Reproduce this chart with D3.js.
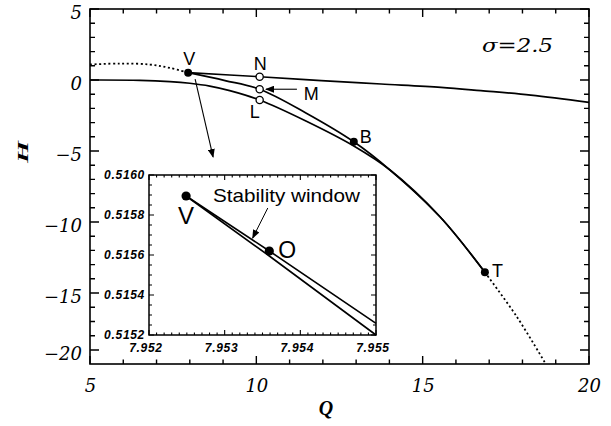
<!DOCTYPE html>
<html>
<head>
<meta charset="utf-8">
<script src="https://cdn.jsdelivr.net/npm/d3@7"></script>
<style>
  body { margin: 0; background: #fff; }
  svg { display: block; }
</style>
</head>
<body>
<svg id="chart"></svg>
<script>
// data
const dottedLeftQ = [5, 5.9, 6.8, 7.4, 7.95];
const dottedLeftH = [1.09, 1.16, 1.09, 0.85, 0.516];

const upperQ = [7.95, 10.1, 11.95, 13.75, 15.55, 16.75, 18.25, 20];
const upperH = [0.516, 0.23, -0.04, -0.28, -0.52, -0.75, -1.06, -1.57];

const mBranchQ = [7.95, 9.06, 10.1, 11.49, 12.93, 14.02, 15.52, 16.87];
const mBranchH = [0.516, -0.04, -0.65, -2.32, -4.35, -6.34, -9.63, -13.54];

const lBranchQ = [5, 6.5, 7.4, 8, 8.6, 9.2, 10.1, 11.49, 12.93, 14.02, 15.52, 16.87];
const lBranchH = [0, -0.02, -0.11, -0.23, -0.43, -0.75, -1.41, -2.89, -4.65, -6.34, -9.63, -13.54];

const dottedRightQ = [16.87, 17.83, 18.7];
const dottedRightH = [-13.54, -17.08, -21.23];

const filledPts = [{name: "V", q: 7.95, h: 0.516}, {name: "B", q: 12.93, h: -4.35}, {name: "T", q: 16.87, h: -13.54}];
const openPts = [{name: "N", q: 10.1, h: 0.23}, {name: "M", q: 10.1, h: -0.65}, {name: "L", q: 10.1, h: -1.41}];

const xMajor = [5, 10, 15, 20];
const xMinor = [6, 7, 8, 9, 11, 12, 13, 14, 16, 17, 18, 19];
const yMajor = [5, 0, -5, -10, -15, -20];
const yMinor = [4, 3, 2, 1, -1, -2, -3, -4, -6, -7, -8, -9, -11, -12, -13, -14, -16.25, -17.5, -18.75];

// inset
const insetUpperQ = [7.95249, 7.95359, 7.955];
const insetUpperH = [0.515895, 0.51562, 0.515258];
const insetLowerQ = [7.95249, 7.95359, 7.955];
const insetLowerH = [0.515895, 0.515595, 0.5152];
const insetPts = [{name: "V", q: 7.95249, h: 0.515895}, {name: "O", q: 7.95359, h: 0.51562}];
const insetXMajor = [7.952, 7.953, 7.954, 7.955];
const insetXMinor = [7.9521, 7.9522, 7.9523, 7.9524, 7.9525, 7.9526, 7.9527, 7.9528, 7.9529,
    7.9531, 7.9532, 7.9533, 7.9534, 7.9535, 7.9536, 7.9537, 7.9538, 7.9539,
    7.9541, 7.9542, 7.9543, 7.9544, 7.9545, 7.9546, 7.9547, 7.9548, 7.9549];
const insetYMajor = [0.5152, 0.5154, 0.5156, 0.5158, 0.5160];
const insetYMinor = [0.51525, 0.5153, 0.51535, 0.51545, 0.5155, 0.51555,
    0.51565, 0.5157, 0.51575, 0.51585, 0.5159, 0.51595];

const W = 611, H = 426;
const pL = 90, pR = 589, pT = 9, pB = 364;

const svg = d3.select("#chart").attr("width", W).attr("height", H);

svg.append("defs").append("marker")
    .attr("id", "arr")
    .attr("markerUnits", "userSpaceOnUse")
    .attr("markerWidth", 9).attr("markerHeight", 7)
    .attr("refX", 8).attr("refY", 3.5)
    .attr("orient", "auto")
    .append("path").attr("d", "M0,0 L9,3.5 L0,7 Z").attr("fill", "#000");

svg.select("defs").append("clipPath").attr("id", "clip")
    .append("rect").attr("x", pL).attr("y", pT)
    .attr("width", pR - pL).attr("height", pB - pT);

const x = d3.scaleLinear().domain([5, 20]).range([pL, pR]);
// the -15..-20 interval is drawn shorter in the original
const y = d3.scaleLinear().domain([5, -15, -20]).range([pT, 293, 350]);

const serif = "'DejaVu Serif', serif";

// labels come from d3.axis; tick marks are drawn as one path per side
function labelAxis(axisFn, scale, values, fmt, pad) {
    return axisFn(scale).tickValues(values).tickSize(0).tickPadding(pad).tickFormat(fmt);
}

// side: "bottom" | "top" | "left" | "right"; ticks point into the frame
function tickPath(g, scale, values, side, edge, len, width) {
    const d = values.map(v => {
        const p = scale(v);
        if (side === "bottom") return `M${p},${edge}V${edge - len}`;
        if (side === "top") return `M${p},${edge}V${edge + len}`;
        if (side === "left") return `M${edge},${p}H${edge + len}`;
        return `M${edge},${p}H${edge - len}`;
    }).join("");
    g.append("path").attr("d", d).attr("fill", "none")
        .attr("stroke", "#000").attr("stroke-width", width);
}

const main = svg.append("g");
main.append("g").attr("transform", `translate(0,${pB})`)
    .call(labelAxis(d3.axisBottom, x, xMajor, d3.format("d"), 15));
const yLab = main.append("g").attr("transform", `translate(${pL},0)`)
    .call(labelAxis(d3.axisLeft, y, yMajor, d3.format("d"), 8));
main.selectAll(".domain").remove();
main.selectAll(".tick line").remove();
main.selectAll(".tick text")
    .attr("font-family", serif).attr("font-style", "italic")
    .attr("font-size", 18).attr("fill", "#000");
yLab.selectAll(".tick text").attr("dy", "0.52em");

tickPath(main, x, xMajor, "bottom", pB, 8, 1.4);
tickPath(main, x, xMinor, "bottom", pB, 4.5, 1.4);
tickPath(main, x, xMajor, "top", pT, 8, 1.4);
tickPath(main, x, xMinor, "top", pT, 4.5, 1.4);
tickPath(main, y, yMajor, "left", pL, 9, 1.4);
tickPath(main, y, yMinor, "left", pL, 5, 1.4);
tickPath(main, y, yMajor, "right", pR, 9, 1.4);
tickPath(main, y, yMinor, "right", pR, 5, 1.4);

main.append("rect")
    .attr("x", pL).attr("y", pT)
    .attr("width", pR - pL).attr("height", pB - pT)
    .attr("fill", "none").attr("stroke", "#000").attr("stroke-width", 1.6);

// curves
const plot = svg.append("g").attr("clip-path", "url(#clip)");
const line = d3.line().x(d => x(d[0])).y(d => y(d[1])).curve(d3.curveCatmullRom.alpha(0.5));
const zipped = (qs, hs) => qs.map((q, i) => [q, hs[i]]);

plot.append("path").datum(zipped(dottedLeftQ, dottedLeftH)).attr("d", line)
    .attr("fill", "none").attr("stroke", "#000").attr("stroke-width", 1.8)
    .attr("stroke-dasharray", "2,2.6");
plot.append("path").datum(zipped(dottedRightQ, dottedRightH)).attr("d", line)
    .attr("fill", "none").attr("stroke", "#000").attr("stroke-width", 1.8)
    .attr("stroke-dasharray", "2,2.6");

[[upperQ, upperH], [mBranchQ, mBranchH], [lBranchQ, lBranchH]].forEach(c => {
    plot.append("path").datum(zipped(c[0], c[1])).attr("d", line)
        .attr("fill", "none").attr("stroke", "#000").attr("stroke-width", 1.7);
});

svg.selectAll(".filled").data(filledPts).enter().append("circle")
    .attr("cx", d => x(d.q)).attr("cy", d => y(d.h)).attr("r", 4).attr("fill", "#000");
svg.selectAll(".open").data(openPts).enter().append("circle")
    .attr("cx", d => x(d.q)).attr("cy", d => y(d.h)).attr("r", 3.6)
    .attr("fill", "#fff").attr("stroke", "#000").attr("stroke-width", 1.3);

// point labels (offsets in px from the point)
const labelOffsets = {V: [-5, -8], N: [-6, -7], M: [44, 11], L: [-10, 18], B: [6, 1], T: [7, 5]};
svg.selectAll(".lab").data(filledPts.concat(openPts)).enter().append("text")
    .attr("x", d => x(d.q) + labelOffsets[d.name][0])
    .attr("y", d => y(d.h) + labelOffsets[d.name][1])
    .attr("font-family", "'Liberation Sans', Arial, sans-serif").attr("font-size", 18)
    .text(d => d.name);

// arrows
const arrows = [
    {from: [11.22, -0.65], to: [10.29, -0.65]},
    {from: [8.16, 0.07], to: [8.7, -5.42]}
];
svg.selectAll(".arrow").data(arrows).enter().append("line")
    .attr("x1", d => x(d.from[0])).attr("y1", d => y(d.from[1]))
    .attr("x2", d => x(d.to[0])).attr("y2", d => y(d.to[1]))
    .attr("stroke", "#000").attr("stroke-width", 1.1).attr("marker-end", "url(#arr)");

svg.append("text").attr("x", 482).attr("y", 52)
    .attr("font-family", serif).attr("font-style", "italic").attr("font-size", 19)
    .attr("textLength", 71).attr("lengthAdjust", "spacingAndGlyphs")
    .text("σ=2.5");

svg.append("text").attr("x", 326).attr("y", 415).attr("text-anchor", "middle")
    .attr("font-family", "'Liberation Serif', serif").attr("font-style", "italic").attr("font-weight", "bold")
    .attr("font-size", 20).text("Q");

svg.append("text").attr("transform", "translate(28,152) rotate(-90)").attr("text-anchor", "middle")
    .attr("font-family", "'Liberation Serif', serif").attr("font-style", "italic").attr("font-weight", "bold")
    .attr("font-size", 15).attr("textLength", 22).attr("lengthAdjust", "spacingAndGlyphs")
    .text("H");

// inset
const il = 149, ir = 376, it = 175, ib = 335;
const ix = d3.scaleLinear().domain([7.952, 7.955]).range([il, ir]);
const iy = d3.scaleLinear().domain([0.5152, 0.5160]).range([ib, it]);
const inset = svg.append("g");

inset.append("rect").attr("x", il).attr("y", it)
    .attr("width", ir - il).attr("height", ib - it).attr("fill", "#fff");

const ixAxisBottom = inset.append("g").attr("transform", `translate(0,${ib})`)
    .call(labelAxis(d3.axisBottom, ix, insetXMajor, d3.format(".3f"), 8.5));
inset.append("g").attr("transform", `translate(${il},0)`)
    .call(labelAxis(d3.axisLeft, iy, insetYMajor, d3.format(".4f"), 4));
inset.selectAll(".domain").remove();
inset.selectAll(".tick line").remove();
inset.selectAll(".tick text")
    .attr("font-family", "'Liberation Sans', Arial, sans-serif").attr("font-style", "italic")
    .attr("font-weight", "bold").attr("font-size", 12).attr("letter-spacing", 0.7)
    .attr("fill", "#000");
ixAxisBottom.selectAll(".tick text").attr("dx", "-0.3em");

tickPath(inset, ix, insetXMajor, "bottom", ib, 5, 1.1);
tickPath(inset, ix, insetXMinor, "bottom", ib, 2.5, 1.1);
tickPath(inset, ix, insetXMajor, "top", it, 5, 1.1);
tickPath(inset, ix, insetXMinor, "top", it, 2.5, 1.1);
tickPath(inset, iy, insetYMajor, "left", il, 5, 1.1);
tickPath(inset, iy, insetYMinor, "left", il, 3, 1.1);
tickPath(inset, iy, insetYMajor, "right", ir, 5, 1.1);
tickPath(inset, iy, insetYMinor, "right", ir, 3, 1.1);

inset.append("rect").attr("x", il).attr("y", it)
    .attr("width", ir - il).attr("height", ib - it)
    .attr("fill", "none").attr("stroke", "#000").attr("stroke-width", 1.5);

const iline = d3.line().x(d => ix(d[0])).y(d => iy(d[1]));
[[insetUpperQ, insetUpperH], [insetLowerQ, insetLowerH]].forEach(c => {
    inset.append("path").datum(zipped(c[0], c[1])).attr("d", iline)
        .attr("fill", "none").attr("stroke", "#000").attr("stroke-width", 1.6);
});

inset.selectAll(".ipt").data(insetPts).enter().append("circle")
    .attr("cx", d => ix(d.q)).attr("cy", d => iy(d.h)).attr("r", 4.6).attr("fill", "#000");

const insetLabelOffsets = {V: [-8, 28], O: [9, 7]};
inset.selectAll(".ilab").data(insetPts).enter().append("text")
    .attr("x", d => ix(d.q) + insetLabelOffsets[d.name][0])
    .attr("y", d => iy(d.h) + insetLabelOffsets[d.name][1])
    .attr("font-family", "'Liberation Sans', Arial, sans-serif")
    .attr("font-size", d => d.name === "V" ? 24 : 23)
    .text(d => d.name);

inset.append("text").attr("x", 213).attr("y", 202)
    .attr("font-family", "'Liberation Sans', Arial, sans-serif").attr("font-size", 19)
    .attr("textLength", 147).attr("lengthAdjust", "spacingAndGlyphs")
    .text("Stability window");

inset.append("line")
    .attr("x1", ix(7.95357)).attr("y1", iy(0.515835))
    .attr("x2", ix(7.95337)).attr("y2", iy(0.515685))
    .attr("stroke", "#000").attr("stroke-width", 1).attr("marker-end", "url(#arr)");
</script>
</body>
</html>
